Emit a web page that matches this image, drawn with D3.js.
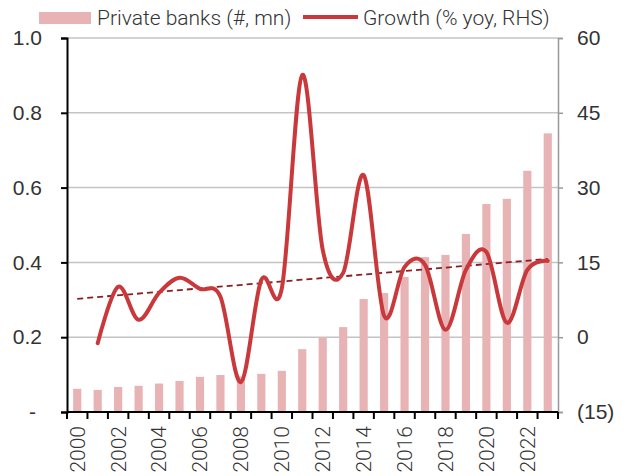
<!DOCTYPE html>
<html lang="en">
<head>
    <meta charset="UTF-8">
    <title>Private banks</title>
    <script src="https://d3js.org/d3.v7.min.js"></script>
    <style>
        body { margin: 0; background: #fff; }
        svg { font-family: Roboto, 'Noto Sans', sans-serif; font-weight: 300; }
        .tick text { font-size: 21px; fill: #333; }
        .legend text { font-size: 21px; fill: #333; }
    </style>
</head>
<body>
<div id="chart"></div>
<script>
    // data
    const years = d3.range(2000, 2024).map(String);
    const banks = [0.062, 0.059, 0.067, 0.070, 0.076, 0.083, 0.094, 0.099, 0.095, 0.102, 0.110, 0.168,
                   0.200, 0.227, 0.302, 0.318, 0.361, 0.414, 0.420, 0.476, 0.556, 0.570, 0.645, 0.745];
    const growth = [null, -1.2, 10.1, 3.5, 8.9, 11.9, 9.7, 8.1, -9.0, 11.5, 9.8, 52.6,
                    17.5, 12.9, 32.5, 4.3, 14.1, 14.5, 1.5, 13.5, 17.1, 2.9, 13.5, 15.3];
    const trendYears = ["2000", "2023"];
    const trendValues = [7.7, 15.7];
    const leftTicks = [0, 0.2, 0.4, 0.6, 0.8, 1.0];
    const rightTicks = [-15, 0, 15, 30, 45, 60];

    const width = 625, height = 476;
    const margin = { top: 38, right: 67, bottom: 64, left: 67 };

    const svg = d3.select("#chart").append("svg")
        .attr("width", width)
        .attr("height", height);

    const x = d3.scaleBand()
        .domain(years)
        .range([margin.left, width - margin.right])
        .paddingInner(0.6)
        .paddingOuter(0.3);

    const yL = d3.scaleLinear().domain([0, 1]).range([height - margin.bottom, margin.top]);
    const yR = d3.scaleLinear().domain([-15, 60]).range([height - margin.bottom, margin.top]);

    const cx = d => x(d) + x.bandwidth() / 2;

    // gridlines
    svg.append("g")
        .selectAll("line")
        .data(leftTicks.slice(1))
        .join("line")
        .attr("x1", margin.left)
        .attr("x2", width - margin.right)
        .attr("y1", d => yL(d))
        .attr("y2", d => yL(d))
        .attr("stroke", "#c4c4c4")
        .attr("stroke-width", 1.5);

    // bars
    svg.append("g")
        .selectAll("rect")
        .data(years)
        .join("rect")
        .attr("x", d => x(d))
        .attr("width", x.bandwidth())
        .attr("y", (d, i) => yL(banks[i]))
        .attr("height", (d, i) => yL(0) - yL(banks[i]))
        .attr("fill", "#e8b3b5");

    // trend line
    svg.append("line")
        .attr("x1", cx(trendYears[0]))
        .attr("x2", cx(trendYears[1]))
        .attr("y1", yR(trendValues[0]))
        .attr("y2", yR(trendValues[1]))
        .attr("stroke", "#8b1e22")
        .attr("stroke-width", 1.8)
        .attr("stroke-dasharray", "6,4");

    // growth line
    const line = d3.line()
        .defined(d => d[1] != null)
        .x(d => cx(d[0]))
        .y(d => yR(d[1]))
        .curve(d3.curveCatmullRom.alpha(0));

    svg.append("path")
        .datum(years.map((d, i) => [d, growth[i]]))
        .attr("d", line)
        .attr("fill", "none")
        .attr("stroke", "#c9393c")
        .attr("stroke-width", 4)
        .attr("stroke-linecap", "round");

    // left axis
    const gL = svg.append("g")
        .attr("transform", `translate(${margin.left},0)`)
        .call(d3.axisLeft(yL).tickValues(leftTicks).tickSize(6).tickPadding(19)
            .tickFormat(d => d === 0 ? "-" : d3.format(".1f")(d)));
    gL.select(".domain").attr("stroke", "#000").attr("stroke-width", 2);
    gL.selectAll(".tick line").attr("stroke", "#000").attr("stroke-width", 2);
    gL.selectAll(".tick text").filter(d => d === 0).attr("dx", "-6");

    // right axis
    const gR = svg.append("g")
        .attr("transform", `translate(${width - margin.right},0)`)
        .call(d3.axisRight(yR).tickValues(rightTicks).tickSize(5).tickPadding(14)
            .tickFormat(d => d < 0 ? `(${-d})` : d));
    gR.select(".domain").attr("stroke", "#999").attr("stroke-width", 1.5);
    gR.selectAll(".tick line").attr("stroke", "#999").attr("stroke-width", 1.5);

    // bottom axis: ticks on band edges, labels every other year
    const xEdges = d3.scaleLinear().domain([0, years.length]).range([margin.left, width - margin.right]);
    const gB = svg.append("g")
        .attr("transform", `translate(0,${height - margin.bottom})`);
    gB.append("line")
        .attr("x1", margin.left).attr("x2", width - margin.right)
        .attr("stroke", "#000").attr("stroke-width", 2);
    gB.selectAll(".edge")
        .data(d3.range(years.length + 1))
        .join("line")
        .attr("class", "edge")
        .attr("x1", d => xEdges(d)).attr("x2", d => xEdges(d))
        .attr("y1", 0).attr("y2", 7)
        .attr("stroke", "#000").attr("stroke-width", 2);
    gB.selectAll("text")
        .data(years.filter((d, i) => i % 2 === 0))
        .join("text")
        .attr("transform", d => `translate(${cx(d)},14) rotate(-90)`)
        .attr("text-anchor", "end")
        .attr("dy", "0.35em")
        .attr("font-size", 21)
        .attr("fill", "#333")
        .text(d => d);

    // legend
    const lg = svg.append("g").attr("class", "legend");
    lg.append("rect")
        .attr("x", 39).attr("y", 12).attr("width", 52).attr("height", 12)
        .attr("fill", "#e8b3b5");
    lg.append("text").attr("x", 97).attr("y", 18).attr("dy", "0.35em").text("Private banks (#, mn)");
    lg.append("line")
        .attr("x1", 303).attr("x2", 358).attr("y1", 17).attr("y2", 17)
        .attr("stroke", "#c9393c").attr("stroke-width", 4);
    lg.append("text").attr("x", 363).attr("y", 18).attr("dy", "0.35em").text("Growth (% yoy, RHS)");
</script>
</body>
</html>
